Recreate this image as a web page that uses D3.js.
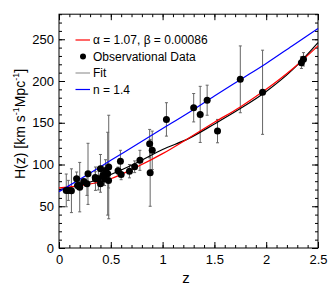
<!DOCTYPE html>
<html>
<head>
<meta charset="utf-8">
<script src="https://cdn.jsdelivr.net/npm/d3@7"></script>
<style>
  body { margin: 0; background: #fff; }
  text { font-family: "Liberation Sans", Arial, sans-serif; }
</style>
</head>
<body>
<script>
// observational H(z) data
let zObs = [0.07,0.09,0.12,0.17,0.179,0.199,0.2,0.24,0.27,0.28,0.35,0.352,0.3802,0.4,0.4004,0.4247,0.43,0.44,0.4497,0.47,0.4783,0.48,0.57,0.593,0.6,0.68,0.73,0.781,0.875,0.88,0.9,1.037,1.3,1.363,1.43,1.53,1.75,1.965,2.34,2.36]
let hObs = [69,69,68.6,83,75,75,72.9,79.69,77,88.8,84.4,83,83,95,77,87.1,86.45,82.6,92.8,89,80.9,97,92.4,104,87.9,92,97.3,105,125,90,117,154,168,160,177,140,202,186.5,222,226]
let sObs = [19.6,12,26.2,8,4,5,29.6,2.65,14,36.6,7,14,13.5,17,10.2,11.2,3.68,7.8,12.9,49.6,9,62,4.5,13,6.1,8,7,12,17,40,23,20,17,33.6,18,14,40,50.4,7,8]

// model curves
let zCurve = [0,0.25,0.5,0.75,1,1.25,1.5,1.75,2,2.25,2.5]
let hRed   = [72,75.5,83,97,113,131.5,150.5,169,190,214,242]
let hFit   = [70,77,88,102,118,131,148.5,167,187.5,213,246]
let hBlue  = [67.5,86,105,124,143,162,182,201.5,221,242,263]

let xMajor = [0,0.5,1,1.5,2,2.5]
let yMajor = [0,50,100,150,200,250]

let w = 331, h = 300
let x0 = 59, x1 = 318, y0 = 248, y1 = 14.2

let svg = d3.select('body').append('svg').attr('width', w).attr('height', h)

let x = d3.scaleLinear().domain([0, 2.5]).range([x0, x1])
let y = d3.scaleLinear().domain([0, 280]).range([y0, y1])

let xMinor = d3.range(0, 2.501, 0.1)
let yMinor = d3.range(0, 281, 10)

function ticks(g, axis) {
  g.call(axis)
  g.select('.domain').remove()
  g.selectAll('line').attr('stroke', '#000')
  g.selectAll('text').attr('font-size', 13).attr('fill', '#000')
    .attr('font-family', '"Liberation Sans", Arial, sans-serif')
}

// minor ticks
svg.append('g').attr('transform', `translate(0,${y0})`)
  .call(g => ticks(g, d3.axisBottom(x).tickValues(xMinor).tickSize(-3).tickFormat('')))
svg.append('g').attr('transform', `translate(0,${y1})`)
  .call(g => ticks(g, d3.axisTop(x).tickValues(xMinor).tickSize(-3).tickFormat('')))
svg.append('g').attr('transform', `translate(${x0},0)`)
  .call(g => ticks(g, d3.axisLeft(y).tickValues(yMinor).tickSize(-3).tickFormat('')))
svg.append('g').attr('transform', `translate(${x1},0)`)
  .call(g => ticks(g, d3.axisRight(y).tickValues(yMinor).tickSize(-3).tickFormat('')))

// major ticks
svg.append('g').attr('transform', `translate(0,${y0})`)
  .call(g => ticks(g, d3.axisBottom(x).tickValues(xMajor).tickSize(-6).tickPadding(7).tickFormat(d3.format('~g'))))
svg.append('g').attr('transform', `translate(0,${y1})`)
  .call(g => ticks(g, d3.axisTop(x).tickValues(xMajor).tickSize(-6).tickFormat('')))
svg.append('g').attr('transform', `translate(${x0},0)`)
  .call(g => ticks(g, d3.axisLeft(y).tickValues(yMajor).tickSize(-6).tickPadding(5)))
svg.append('g').attr('transform', `translate(${x1},0)`)
  .call(g => ticks(g, d3.axisRight(y).tickValues(yMajor).tickSize(-6).tickFormat('')))

// frame
svg.append('rect')
  .attr('x', x0).attr('y', y1).attr('width', x1 - x0).attr('height', y0 - y1)
  .attr('fill', 'none').attr('stroke', '#000').attr('stroke-width', 1)

// error bars
let obs = zObs.map((z, i) => ({ z: z, h: hObs[i], s: sObs[i] }))
let eb = svg.append('g').attr('stroke', '#666').attr('stroke-width', 1)
eb.selectAll('.v').data(obs).enter().append('line')
  .attr('x1', d => x(d.z)).attr('x2', d => x(d.z))
  .attr('y1', d => y(d.h - d.s)).attr('y2', d => y(d.h + d.s))
eb.selectAll('.t').data(obs).enter().append('line')
  .attr('x1', d => x(d.z) - 1.5).attr('x2', d => x(d.z) + 1.5)
  .attr('y1', d => y(d.h + d.s)).attr('y2', d => y(d.h + d.s))
eb.selectAll('.b').data(obs).enter().append('line')
  .attr('x1', d => x(d.z) - 1.5).attr('x2', d => x(d.z) + 1.5)
  .attr('y1', d => y(d.h - d.s)).attr('y2', d => y(d.h - d.s))

// curves
let line = d3.line().x(d => x(d[0])).y(d => y(d[1])).curve(d3.curveMonotoneX)
let curves = [[hFit, '#000'], [hRed, '#ff0000'], [hBlue, '#0000ff']]
curves.forEach(c => {
  svg.append('path')
    .attr('d', line(zCurve.map((z, i) => [z, c[0][i]])))
    .attr('fill', 'none').attr('stroke', c[1]).attr('stroke-width', 1.2)
})

// points
svg.selectAll('circle.pt').data(obs).enter().append('circle')
  .attr('cx', d => x(d.z)).attr('cy', d => y(d.h)).attr('r', 3.5).attr('fill', '#000')

// legend
let legend = [
  { label: 'α = 1.07, β = 0.00086', type: 'line', color: '#ff0000' },
  { label: 'Observational Data', type: 'dot', color: '#000' },
  { label: 'Fit', type: 'line', color: '#999' },
  { label: 'n = 1.4', type: 'line', color: '#0000ff' }
]
let lg = svg.selectAll('g.leg').data(legend).enter().append('g')
  .attr('transform', (d, i) => `translate(0,${40 + i * 16.5})`)
lg.filter(d => d.type == 'line').append('line')
  .attr('x1', 75.5).attr('x2', 90).attr('y1', 0).attr('y2', 0)
  .attr('stroke', d => d.color).attr('stroke-width', 1.2)
lg.filter(d => d.type == 'dot').append('circle')
  .attr('cx', 83).attr('cy', 0).attr('r', 3).attr('fill', '#000')
lg.append('text').attr('x', 93).attr('dy', '0.35em').attr('font-size', 12).text(d => d.label)

// axis titles
svg.append('text').attr('x', 186).attr('y', 283).attr('text-anchor', 'middle')
  .attr('font-size', 15).text('z')

let yt = svg.append('text').attr('transform', 'translate(25,124) rotate(-90)')
  .attr('text-anchor', 'middle').attr('font-size', 14)
yt.append('tspan').text('H(z) [km s')
yt.append('tspan').attr('font-size', 9).attr('dy', -6).text('-1')
yt.append('tspan').attr('dy', 6).text('Mpc')
yt.append('tspan').attr('font-size', 9).attr('dy', -6).text('-1')
yt.append('tspan').attr('dy', 6).text(']')
</script>
</body>
</html>
